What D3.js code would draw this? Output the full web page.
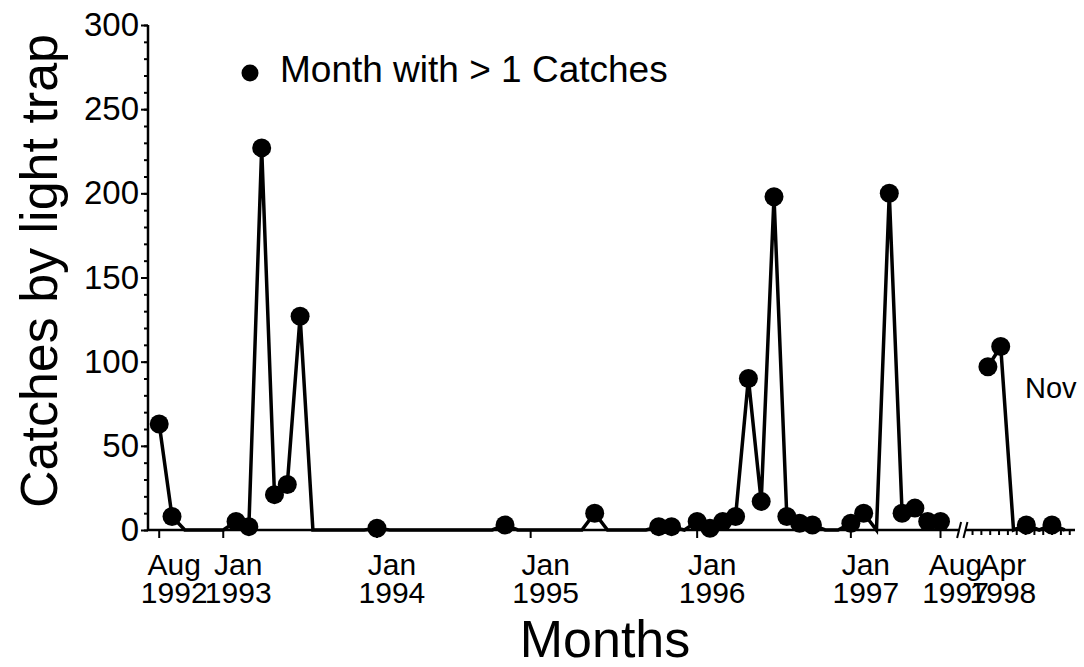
<!DOCTYPE html>
<html>
<head>
<meta charset="utf-8">
<script src="https://cdn.jsdelivr.net/npm/d3@7"></script>
<style>
  body { margin: 0; background: #fff; }
  svg { display: block; font-family: "Liberation Sans", Arial, sans-serif; }
</style>
</head>
<body>
<div id="chart"></div>
<script>
// plotting position in months from Aug 1992 (the axis is broken after Sep 1997)
const monthIdxA = d3.range(0, 62);
const catchesA = [63, 8, 0, 0, 0, 0, 5, 2, 227, 21, 27, 127,
  0, 0, 0, 0, 0, 1, 0, 0, 0, 0, 0, 0, 0, 0, 0, 3,
  0, 0, 0, 0, 0, 0, 10, 0, 0, 0, 0, 2, 2, 0,
  5, 1, 5, 8, 90, 17, 198, 8, 4, 3, 0, 0,
  4, 10, 0, 200, 10, 13, 5, 5];
const monthIdxB = [64.7, 65.7, 66.7, 67.7, 68.7, 69.7, 70.7];
const catchesB = [97, 109, 0, 3, 0, 3, 0];

const tickIdx = [0, 5, 17, 29, 42, 54, 61, 64.7];
const tickMonth = ["Aug", "Jan", "Jan", "Jan", "Jan", "Jan", "Aug", "Apr"];
const tickYear = ["1992", "1993", "1994", "1995", "1996", "1997", "1997", "1998"];
const yTicks = [0, 50, 100, 150, 200, 250, 300];

const width = 1084, height = 667;

const svg = d3.select("#chart").append("svg")
    .attr("width", width)
    .attr("height", height);

const x = d3.scaleLinear().domain([-0.875, 71.5]).range([148, 1075]);
const y = d3.scaleLinear().domain([0, 300]).range([530, 25]);

// y axis, major and minor ticks
const yMinor = svg.append("g")
    .attr("transform", `translate(${x(-0.875)},0)`)
    .call(d3.axisLeft(y).tickValues(d3.range(0, 301, 10)).tickSize(4).tickFormat(""));
yMinor.select(".domain").remove();
yMinor.selectAll("line").attr("stroke-width", 2);

const yAxis = svg.append("g")
    .attr("transform", `translate(${x(-0.875)},0)`)
    .call(d3.axisLeft(y).tickValues(yTicks).tickSize(7).tickPadding(2));
yAxis.select(".domain").attr("stroke-width", 2.5).attr("d", `M0,${y(0)}V${y(300)}`);
yAxis.selectAll("line").attr("stroke-width", 2);
yAxis.selectAll("text").attr("font-size", 33).attr("fill", "#000")
    .attr("font-family", "Liberation Sans, Arial, sans-serif");

// x axis line with a break
const breakL = 62.45, breakR = 62.95;
svg.append("line")
    .attr("x1", x(-0.875)).attr("x2", x(breakL))
    .attr("y1", y(0)).attr("y2", y(0))
    .attr("stroke", "#000").attr("stroke-width", 2.5);
svg.append("line")
    .attr("x1", x(breakR)).attr("x2", x(71.5))
    .attr("y1", y(0)).attr("y2", y(0))
    .attr("stroke", "#000").attr("stroke-width", 2.5);
svg.append("g").selectAll("line")
    .data([breakL, breakR])
    .join("line")
    .attr("x1", d => x(d) - 2).attr("x2", d => x(d) + 2)
    .attr("y1", y(0) + 8).attr("y2", y(0) - 8)
    .attr("stroke", "#000").attr("stroke-width", 2);

// major ticks before the break, small ticks after it
svg.append("g").selectAll("line")
    .data(tickIdx.filter(d => d < breakL))
    .join("line")
    .attr("x1", d => x(d)).attr("x2", d => x(d))
    .attr("y1", y(0)).attr("y2", y(0) + 8)
    .attr("stroke", "#000").attr("stroke-width", 2);
svg.append("g").selectAll("line")
    .data(d3.range(63.5, 71.6, 0.69))
    .join("line")
    .attr("x1", d => x(d)).attr("x2", d => x(d))
    .attr("y1", y(0)).attr("y2", y(0) + 5)
    .attr("stroke", "#000").attr("stroke-width", 2);

const xLabels = svg.append("g")
    .attr("font-size", 30)
    .attr("text-anchor", "middle");
xLabels.selectAll("text.m")
    .data(tickIdx)
    .join("text")
    .attr("class", "m")
    .attr("x", d => x(d) + 15)
    .attr("y", 575)
    .text((d, i) => tickMonth[i]);
xLabels.selectAll("text.yr")
    .data(tickIdx)
    .join("text")
    .attr("class", "yr")
    .attr("x", d => x(d) + 15)
    .attr("y", 603)
    .text((d, i) => tickYear[i]);

// the series
const line = d3.line()
    .x(d => x(d[0]))
    .y(d => y(d[1]));

const segA = monthIdxA.map((m, i) => [m, catchesA[i]]);
const segB = monthIdxB.map((m, i) => [m, catchesB[i]]);

svg.append("g").selectAll("path")
    .data([segA, segB])
    .join("path")
    .attr("d", line)
    .attr("fill", "none")
    .attr("stroke", "#000")
    .attr("stroke-width", 3.5)
    .attr("stroke-linejoin", "miter");

svg.append("g").selectAll("circle")
    .data(segA.concat(segB).filter(d => d[1] > 0))
    .join("circle")
    .attr("cx", d => x(d[0]))
    .attr("cy", d => y(d[1]))
    .attr("r", 9.5)
    .attr("fill", "#000");

// legend and annotations
svg.append("circle").attr("cx", 250).attr("cy", 73).attr("r", 8.5).attr("fill", "#000");
svg.append("text").attr("x", 280).attr("y", 82)
    .attr("font-size", 37)
    .text("Month with > 1 Catches");

svg.append("text").attr("x", 1025).attr("y", 398)
    .attr("font-size", 29)
    .text("Nov");

svg.append("text")
    .attr("transform", "translate(57,271) rotate(-90)")
    .attr("text-anchor", "middle")
    .attr("font-size", 52)
    .text("Catches by light trap");

svg.append("text")
    .attr("x", 605).attr("y", 657)
    .attr("text-anchor", "middle")
    .attr("font-size", 52)
    .text("Months");
</script>
</body>
</html>
